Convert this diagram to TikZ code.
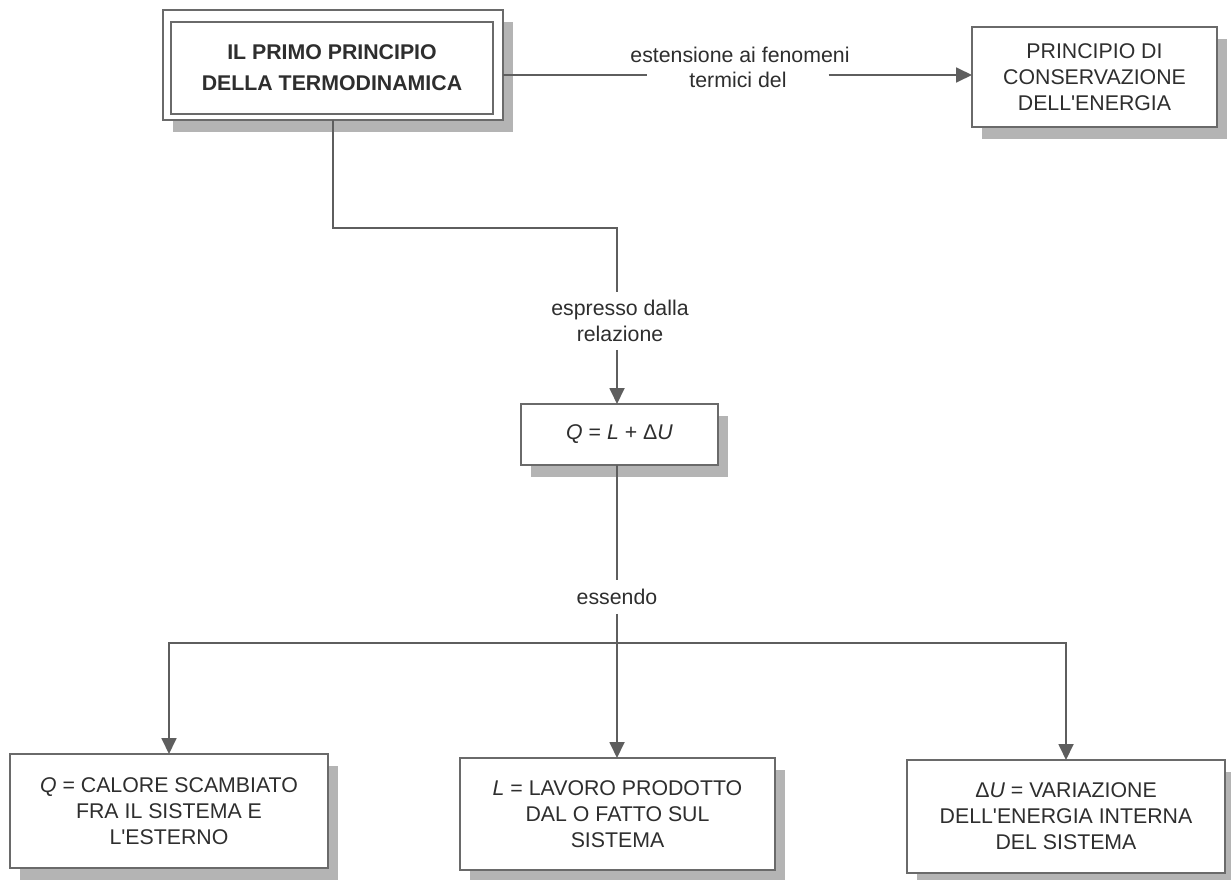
\documentclass[tikz,border=0pt]{standalone}
\usepackage{fontspec}
\setmainfont{Liberation Sans}
\usetikzlibrary{arrows.meta,shadows,calc}
\definecolor{txt}{HTML}{2E2E2E}
\definecolor{boxc}{HTML}{6A6A6A}
\definecolor{linec}{HTML}{5E5E5E}
\definecolor{shadc}{HTML}{B4B4B4}
\newcommand{\apo}{\textquotesingle}
\begin{document}
\begin{tikzpicture}[x=1pt,y=-1pt,
  boxtxt/.style={font=\fontsize{21.3}{26}\selectfont, text=txt, align=center},
  cbox/.style={boxtxt, draw=boxc, line width=1.3pt, fill=white, outer sep=0pt, inner sep=0pt,
    drop shadow={shadow xshift=10pt, shadow yshift=-12pt, fill=shadc, opacity=1}},
  lbl/.style={boxtxt, inner sep=0pt, outer sep=0pt},
  conn/.style={draw=linec, line width=1.8pt},
  arr/.style={conn, -{Triangle[length=16pt,width=15pt,fill=linec]}}
]
\useasboundingbox[fill=white] (0,0) rectangle (1231,880);

% top-left double box
\node[cbox, minimum width=340pt, minimum height=110pt] (tlo) at (333,65) {};
\node[draw=boxc, line width=1.3pt, fill=white, align=center, text=txt,
      font=\fontsize{21.3}{31}\selectfont\bfseries, minimum width=322pt, minimum height=92pt,
      inner sep=0pt, outer sep=0pt] (tl) at (332,68) {IL PRIMO PRINCIPIO\\DELLA TERMODINAMICA};

% top-right box
\node[cbox, minimum width=245pt, minimum height=100pt] (tr) at (1094.5,77)
  {PRINCIPIO DI\\CONSERVAZIONE\\DELL\apo ENERGIA};

% labels of the top connector
\node[lbl] (lab1a) at (740,55) {estensione ai fenomeni};
\node[lbl, inner xsep=42pt] (lab1b) at (738,80) {termici del};
\coordinate (l1) at ($(lab1b.west)+(0,-5)$);
\coordinate (r1) at ($(lab1b.east)+(0,-5)$);
\draw[conn] (l1 -| tlo.east) -- (l1);
\draw[arr] (r1) -- (r1 -| tr.west);

% middle chain
\coordinate (b1) at (617,228);
\node[lbl, inner ysep=8pt] (lab2) at (620,321) {espresso dalla\\relazione};
\node[cbox, minimum width=197pt, minimum height=61pt] (q) at (619.5,434.5)
  {\textit{Q} = \textit{L} + Δ\textit{U}};
\draw[conn] (tlo.south) -- (tlo.south |- b1) -- (b1) -- (b1 |- lab2.north);
\draw[arr] (b1 |- lab2.south) -- (b1 |- q.north);

\node[lbl, inner ysep=9pt] (ess) at (617,597) {essendo};
\coordinate (j) at (617,643);

% bottom boxes
\node[cbox, minimum width=318pt, minimum height=114pt] (bl) at (169,811)
  {\textit{Q} = CALORE SCAMBIATO\\FRA IL SISTEMA E\\L\apo ESTERNO};
\node[cbox, minimum width=315pt, minimum height=112pt] (bm) at (617.5,814)
  {\textit{L} = LAVORO PRODOTTO\\DAL O FATTO SUL\\SISTEMA};
\node[cbox, minimum width=318pt, minimum height=113pt] (br) at (1066,816.5)
  {Δ\textit{U} = VARIAZIONE\\DELL\apo ENERGIA INTERNA\\DEL SISTEMA};

\draw[conn] (q.south -| b1) -- (b1 |- ess.north);
\draw[arr] (b1 |- ess.south) -- (b1 |- bm.north);
\draw[arr] (j) -| (bl.north);
\draw[arr] (j) -| (br.north);
\end{tikzpicture}
\end{document}
